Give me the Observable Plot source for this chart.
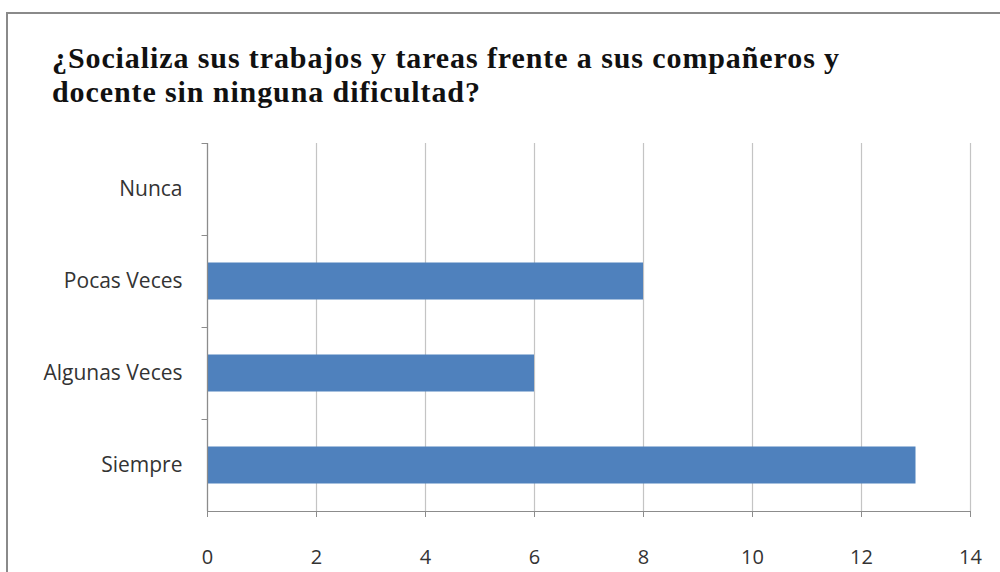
<!DOCTYPE html>
<html><head><meta charset="utf-8">
<script src="https://cdn.jsdelivr.net/npm/d3@7"></script>
<script src="https://cdn.jsdelivr.net/npm/@observablehq/plot@0.6"></script>
<style>
html,body{margin:0;padding:0;background:#fff;}
#wrap{position:relative;width:1000px;height:572px;overflow:hidden;background:#fff;}
#frame{position:absolute;left:6px;top:12px;width:1000px;height:600px;border-left:2px solid #8a8a8a;border-top:2px solid #8a8a8a;box-sizing:border-box;}
#title{position:absolute;left:52px;top:41px;font-family:"Liberation Serif","Times New Roman",serif;font-weight:bold;font-size:30px;line-height:34px;color:#111;letter-spacing:0.9px;white-space:nowrap;}
#chart{position:absolute;left:0;top:120px;}
</style></head>
<body><div id="wrap"><div id="frame"></div>
<div id="title">¿Socializa sus trabajos y tareas frente a sus compañeros y<br>docente sin ninguna dificultad?</div>
<div id="chart"></div></div>
<script>
const categories = ["Nunca", "Pocas Veces", "Algunas Veces", "Siempre"];
const values = [0, 8, 6, 13];
const xTicks = [0, 2, 4, 6, 8, 10, 12, 14];
const data = categories.map((c, i) => ({cat: c, value: values[i]}));
const last = categories[categories.length - 1];
const chart = Plot.plot({
  width: 1000, height: 452,
  marginTop: 23, marginBottom: 61, marginLeft: 207, marginRight: 30,
  style: {fontFamily: "'Open Sans',sans-serif", fontSize: "20px", color: "#333", background: "transparent"},
  x: {domain: [0, 14], ticks: xTicks, label: null},
  y: {domain: categories, padding: 0, label: null},
  marks: [
    Plot.gridX(xTicks, {stroke: "#c4c4c4", strokeOpacity: 1, strokeWidth: 1.2}),
    Plot.barX(data, {x: "value", y: "cat", fill: "#4F81BD", insetTop: 27.5, insetBottom: 27.5}),
    Plot.ruleX([0], {stroke: "#8c8c8c", strokeWidth: 1.2}),
    Plot.ruleY(categories, {y: d => d, dy: -46, x1: -0.1, x2: 0, stroke: "#8c8c8c"}),
    Plot.ruleY([last], {y: d => d, dy: 46, x1: 0, x2: 14, stroke: "#8c8c8c", strokeWidth: 1.2}),
    Plot.axisX(xTicks, {tickSize: 6, tickPadding: 32, stroke: "#8c8c8c", fill: "#333", tickFormat: d => d}),
    Plot.axisY({tickSize: 0, tickPadding: 25, fill: "#333", fontSize: 21, letterSpacing: "0.6px"})
  ]
});
document.getElementById("chart").appendChild(chart);
</script></body></html>
